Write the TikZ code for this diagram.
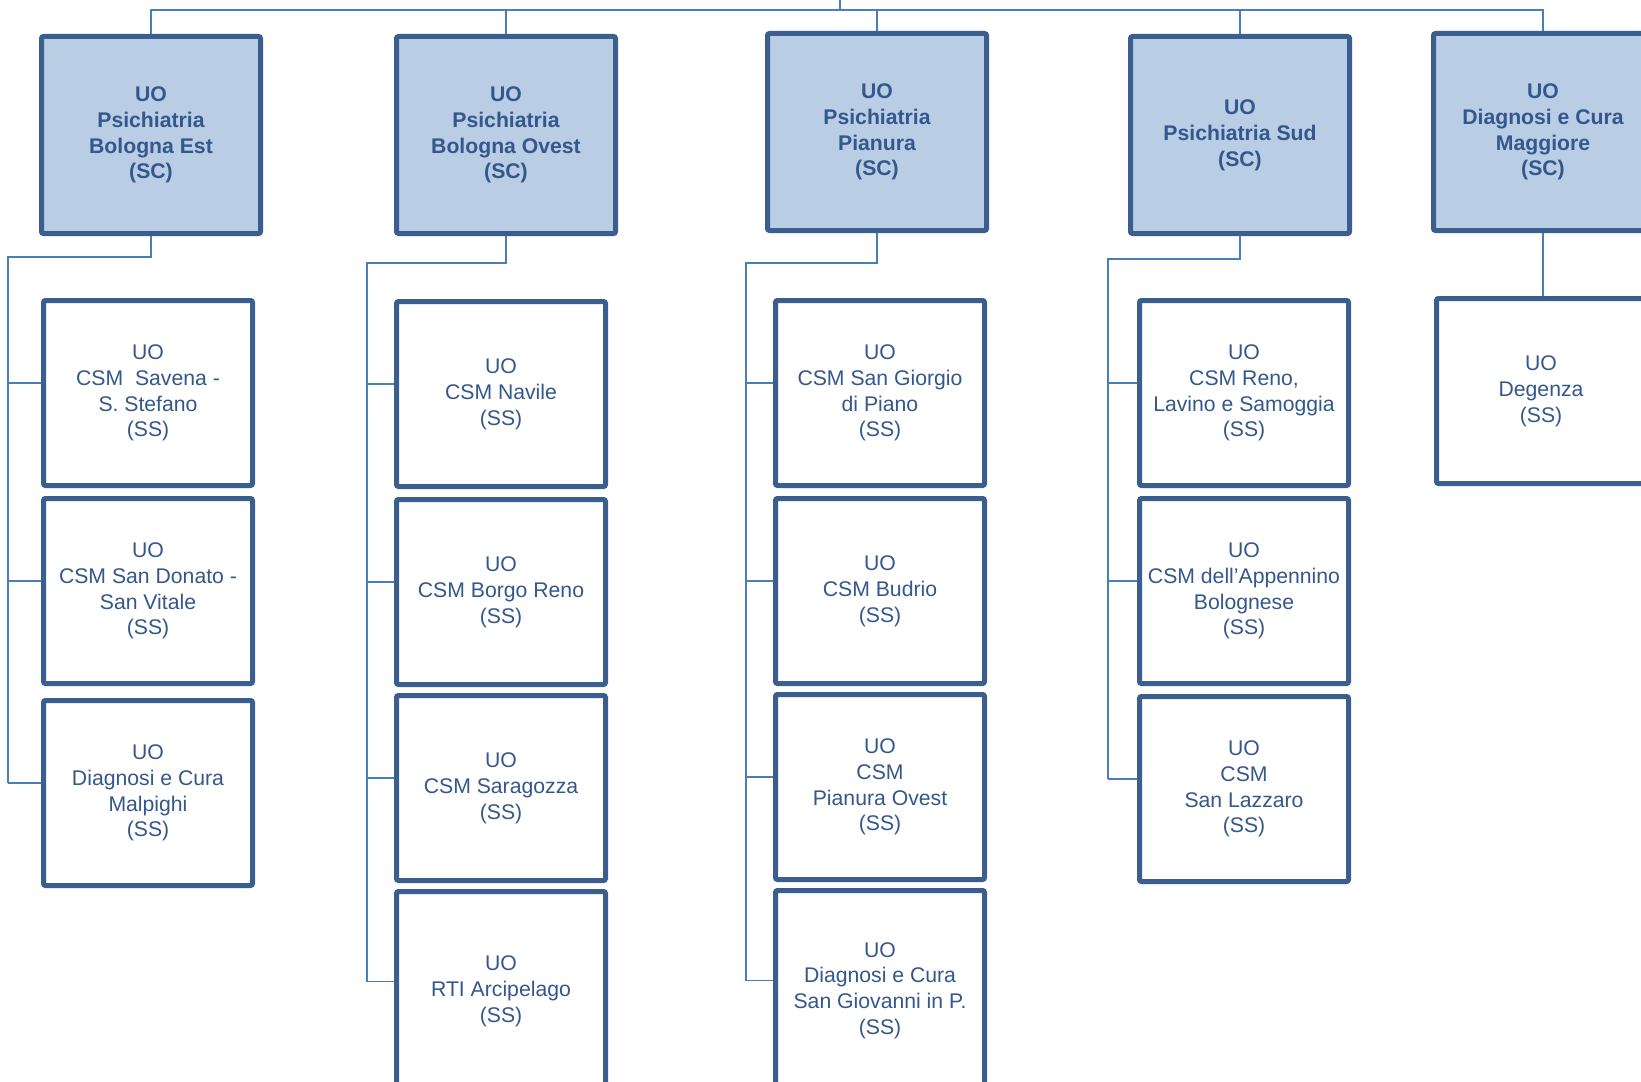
\documentclass[tikz,border=0pt]{standalone}
\usepackage{fontspec}
\setmainfont{Liberation Sans}
\usetikzlibrary{positioning}
\definecolor{boxline}{HTML}{3A5E8E}
\definecolor{boxfill}{HTML}{B9CDE5}
\definecolor{labeltext}{HTML}{34578C}
\definecolor{connline}{HTML}{4A7EBB}

\begin{document}
\begin{tikzpicture}[x=0.5pt, y=-0.5pt,
  every node/.style={font=\fontsize{10.6}{12.9}\selectfont, text=labeltext, align=center},
  scbox/.style={draw=boxline, line width=2.5pt, fill=boxfill, rounded corners=1pt,
    minimum width=109.5pt, minimum height=98.5pt, font=\bfseries\fontsize{10.6}{12.9}\selectfont},
  ssbox/.style={draw=boxline, line width=2.5pt, fill=white, rounded corners=1pt,
    minimum width=104.5pt, minimum height=92.5pt},
  conn/.style={draw=connline, line width=0.8pt}]
 \useasboundingbox (0,0) rectangle (1641,1081);
 \clip (0,0) rectangle (1641,1081);

 % strutture complesse
 \node[scbox] (sc1) at (151,135) {UO\\Psichiatria\\Bologna Est\\(SC)};
 \node[scbox] (sc2) at (506,135) {UO\\Psichiatria\\Bologna Ovest\\(SC)};
 \node[scbox] (sc3) at (877,132) {UO\\Psichiatria\\Pianura\\(SC)};
 \node[scbox] (sc4) at (1240,135) {UO\\Psichiatria Sud\\(SC)};
 \node[scbox] (sc5) at (1543,132) {UO\\Diagnosi e Cura\\Maggiore\\(SC)};

 % Bologna Est
 \node[ssbox] (ss11) at (148,393) {UO\\CSM~ Savena -\\S. Stefano\\(SS)};
 \node[ssbox,below=4pt of ss11] (ss12) {UO\\CSM San Donato -\\San Vitale\\(SS)};
 \node[ssbox,below=6pt of ss12] (ss13) {UO\\Diagnosi e Cura\\Malpighi\\(SS)};
 % Bologna Ovest
 \node[ssbox] (ss21) at (501,394) {UO\\CSM Navile\\(SS)};
 \node[ssbox,below=4pt of ss21] (ss22) {UO\\CSM Borgo Reno\\(SS)};
 \node[ssbox,below=3pt of ss22] (ss23) {UO\\CSM Saragozza\\(SS)};
 \node[ssbox,below=3pt of ss23,minimum height=100pt] (ss24) {UO\\RTI Arcipelago\\(SS)};
 % Pianura
 \node[ssbox] (ss31) at (880,393) {UO\\CSM San Giorgio\\di Piano\\(SS)};
 \node[ssbox,below=4pt of ss31] (ss32) {UO\\CSM Budrio\\(SS)};
 \node[ssbox,below=3pt of ss32] (ss33) {UO\\CSM\\Pianura Ovest\\(SS)};
 \node[ssbox,below=3pt of ss33,minimum height=100pt] (ss34) {UO\\Diagnosi e Cura\\San Giovanni in P.\\(SS)};
 % Sud
 \node[ssbox] (ss41) at (1244,393) {UO\\CSM Reno,\\Lavino e Samoggia\\(SS)};
 \node[ssbox,below=4pt of ss41] (ss42) {UO\\CSM dell’Appennino\\Bolognese\\(SS)};
 \node[ssbox,below=4pt of ss42] (ss43) {UO\\CSM\\San Lazzaro\\(SS)};
 % Maggiore
 \node[ssbox] (ss51) at (1541,391) {UO\\Degenza\\(SS)};

 % bus in alto
 \coordinate (root) at (840,0);
 \coordinate (bus) at (840,10);
 \draw[conn] (root) -- (bus);
 \draw[conn] (sc1.north) -- (sc1.north |- bus) -- (sc5.north |- bus) -- (sc5.north);
 \foreach \n in {sc2,sc3,sc4}
  \draw[conn] (\n.north) -- (\n.north |- bus);

 % dorsali
 \coordinate (spine1) at (8,257);
 \coordinate (spine2) at (367,263);
 \coordinate (spine3) at (746,263);
 \coordinate (spine4) at (1108,259);
 \draw[conn] (sc1.south) |- (spine1) -- ([yshift=5pt]ss13.west -| spine1);
 \draw[conn] (sc2.south) |- (spine2) -- ([yshift=5pt]ss24.west -| spine2);
 \draw[conn] (sc3.south) |- (spine3) -- ([yshift=5pt]ss34.west -| spine3);
 \draw[conn] (sc4.south) |- (spine4) -- ([yshift=5pt]ss43.west -| spine4);
 \foreach \n in {ss11,ss12,ss13}
  \draw[conn] ([yshift=5pt]\n.west -| spine1) -- ([yshift=5pt]\n.west);
 \foreach \n in {ss21,ss22,ss23,ss24}
  \draw[conn] ([yshift=5pt]\n.west -| spine2) -- ([yshift=5pt]\n.west);
 \foreach \n in {ss31,ss32,ss33,ss34}
  \draw[conn] ([yshift=5pt]\n.west -| spine3) -- ([yshift=5pt]\n.west);
 \foreach \n in {ss41,ss42,ss43}
  \draw[conn] ([yshift=5pt]\n.west -| spine4) -- ([yshift=5pt]\n.west);
 \draw[conn] (sc5.south) -- (sc5.south |- ss51.north);
\end{tikzpicture}
\end{document}
